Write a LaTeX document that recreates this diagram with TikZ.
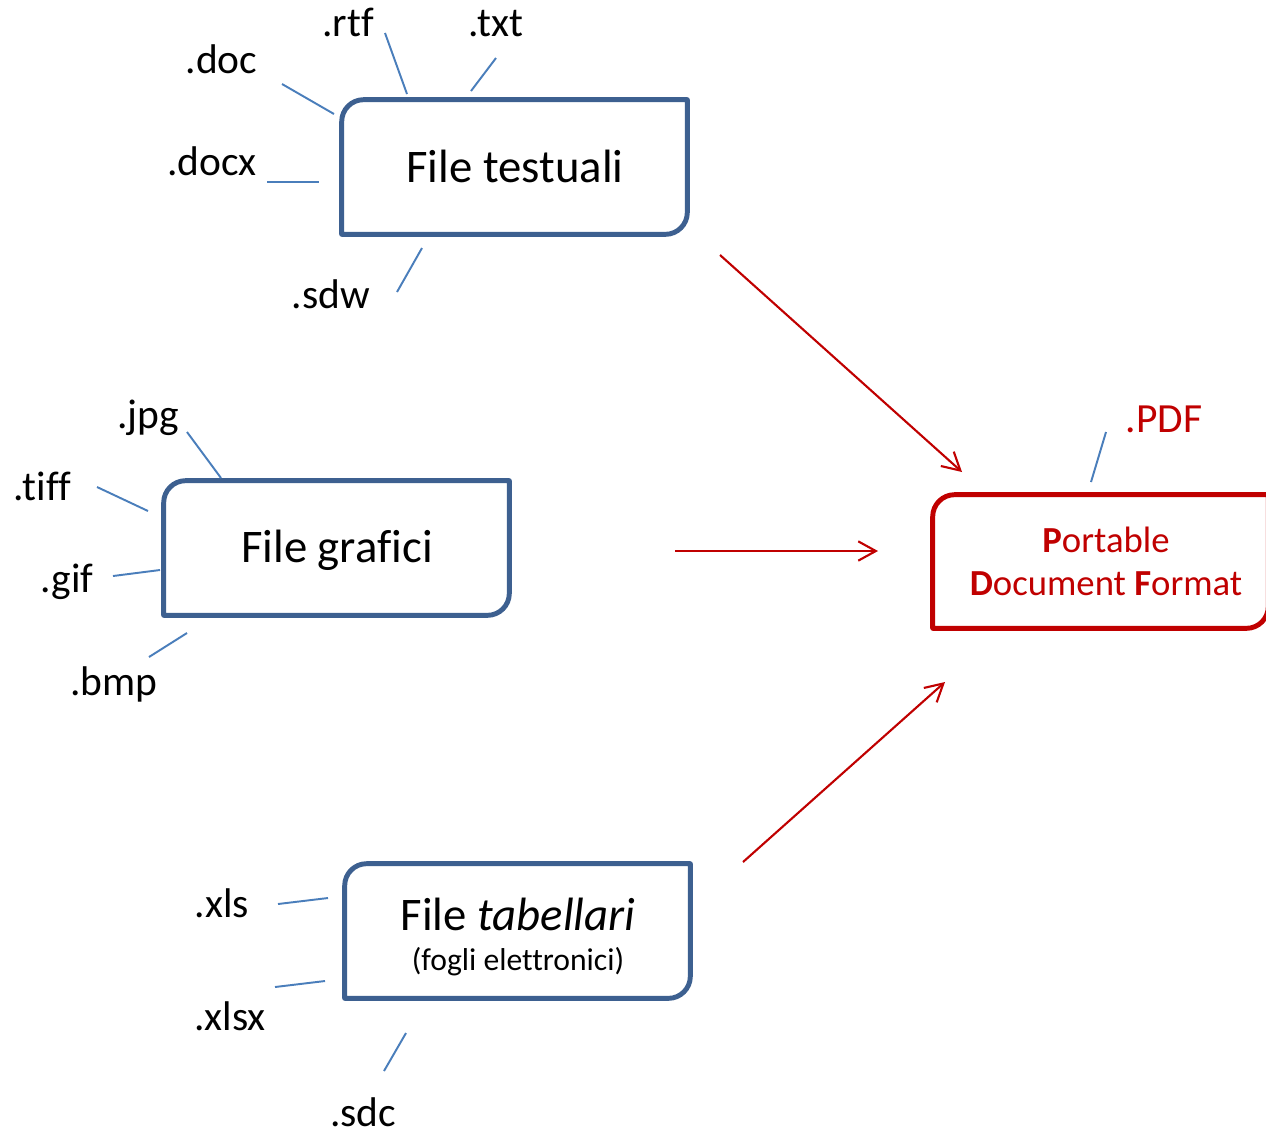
\documentclass[tikz,border=0pt]{standalone}
\usepackage{fontspec}
\setmainfont{Carlito}[Ligatures=NoCommon]
\usetikzlibrary{arrows.meta}
\definecolor{boxblue}{HTML}{3D6090}
\definecolor{lineblue}{HTML}{4A7EBB}
\definecolor{pdfred}{HTML}{C00000}
\tikzset{
  ext/.style={anchor=base, inner sep=0pt, font=\fontsize{23.6}{28}\selectfont},
  title/.style={anchor=base, inner sep=0pt, font=\fontsize{26.6}{32}\selectfont},
  subtitle/.style={anchor=base, inner sep=0pt, font=\fontsize{18}{22}\selectfont},
  pdftext/.style={anchor=base, inner sep=0pt, text=pdfred, font=\fontsize{20.9}{25}\selectfont},
  frame/.style={inner sep=0pt, draw=none, minimum width=6.9cm, minimum height=2.68cm},
  tick/.style={lineblue, line width=1.1pt},
  conv/.style={pdfred, line width=1.2pt, -{Straight Barb[length=10pt,width=11pt]}},
}
\newcommand\diagbox[2]{%
  \draw[#2, line width=2.8pt, line join=round]
    ([yshift=-12.5pt]#1.north west) .. controls ([yshift=-5.6pt]#1.north west) and ([xshift=5.6pt]#1.north west) .. ([xshift=12.5pt]#1.north west)
    -- (#1.north east)
    -- ([yshift=12.5pt]#1.south east) .. controls ([yshift=5.6pt]#1.south east) and ([xshift=-5.6pt]#1.south east) .. ([xshift=-12.5pt]#1.south east)
    -- (#1.south west) -- cycle;}
\begin{document}
\begin{tikzpicture}[x=0.02cm, y=-0.02cm]
\useasboundingbox[fill=white] (0,0) rectangle (1266,1137);

% boxes
\node[frame] (btest) at (514.5,167) {};
\node[frame] (bgraf) at (336.5,548) {};
\node[frame] (btab) at (517.5,931) {};
\node[frame, minimum width=6.7cm, minimum height=2.66cm] (bpdf) at (1100.5,561.5) {};
\diagbox{btest}{boxblue}
\diagbox{bgraf}{boxblue}
\diagbox{btab}{boxblue}
\diagbox{bpdf}{pdfred}

% box texts
\node[title] (ttest) at (515,182) {File testuali};
\node[title] (tgraf) at (337,562) {File grafici};
\node[title] (ttab) at (518,930) {File \textit{tabellari}};
\node[subtitle] (ttabsub) at (518,970) {(fogli elettronici)};
\node[pdftext] (tpdf1) at (1106,552) {\textbf{P}ortable};
\node[pdftext] (tpdf2) at (1106,595) {\textbf{D}ocument \textbf{F}ormat};

% extension labels
\node[ext] (rtf) at (348,36) {.rtf};
\node[ext] (txt) at (496,36) {.txt};
\node[ext] (doc) at (221.5,73) {.doc};
\node[ext] (docx) at (212,175) {.docx};
\node[ext] (sdw) at (331,308) {.sdw};
\node[ext] (jpg) at (148,428) {.jpg};
\node[ext] (tiff) at (42,500) {.tiff};
\node[ext] (gif) at (67,592) {.gif};
\node[ext] (bmp) at (114,695) {.bmp};
\node[ext] (xls) at (222,917) {.xls};
\node[ext] (xlsx) at (230,1030) {.xlsx};
\node[ext] (sdc) at (363,1126) {.sdc};
\node[ext, text=pdfred] (pdf) at (1164,432) {.PDF};

% tick lines
\coordinate (r1) at (385,33);  \coordinate (r2) at (407,94);
\coordinate (t1) at (496,58);  \coordinate (t2) at (471,91);
\coordinate (d1) at (282,84);  \coordinate (d2) at (334,114);
\coordinate (x1) at (267,182); \coordinate (x2) at (319,182);
\coordinate (s1) at (422,248); \coordinate (s2) at (397,292);
\coordinate (j1) at (187,432); \coordinate (j2) at (221,478);
\coordinate (f1) at (97,487);  \coordinate (f2) at (148,511);
\coordinate (g1) at (113,576); \coordinate (g2) at (160,570);
\coordinate (b1) at (149,657); \coordinate (b2) at (187,633);
\coordinate (l1) at (278,904); \coordinate (l2) at (328,898);
\coordinate (m1) at (275,987); \coordinate (m2) at (325,981);
\coordinate (c1) at (406,1033);\coordinate (c2) at (384,1071);
\coordinate (p1) at (1106,432);\coordinate (p2) at (1091,482);
\foreach \a/\b in {r1/r2,t1/t2,d1/d2,x1/x2,s1/s2,j1/j2,f1/f2,g1/g2,b1/b2,l1/l2,m1/m2,c1/c2,p1/p2}
  \draw[tick] (\a) -- (\b);

% conversion arrows
\coordinate (a1s) at (720,255); \coordinate (a1e) at (962,472);
\coordinate (a2s) at (675,551); \coordinate (a2e) at (878,551);
\coordinate (a3s) at (743,862); \coordinate (a3e) at (945,682);
\draw[conv] (a1s) -- (a1e);
\draw[conv] (a2s) -- (a2e);
\draw[conv] (a3s) -- (a3e);
\end{tikzpicture}
\end{document}
